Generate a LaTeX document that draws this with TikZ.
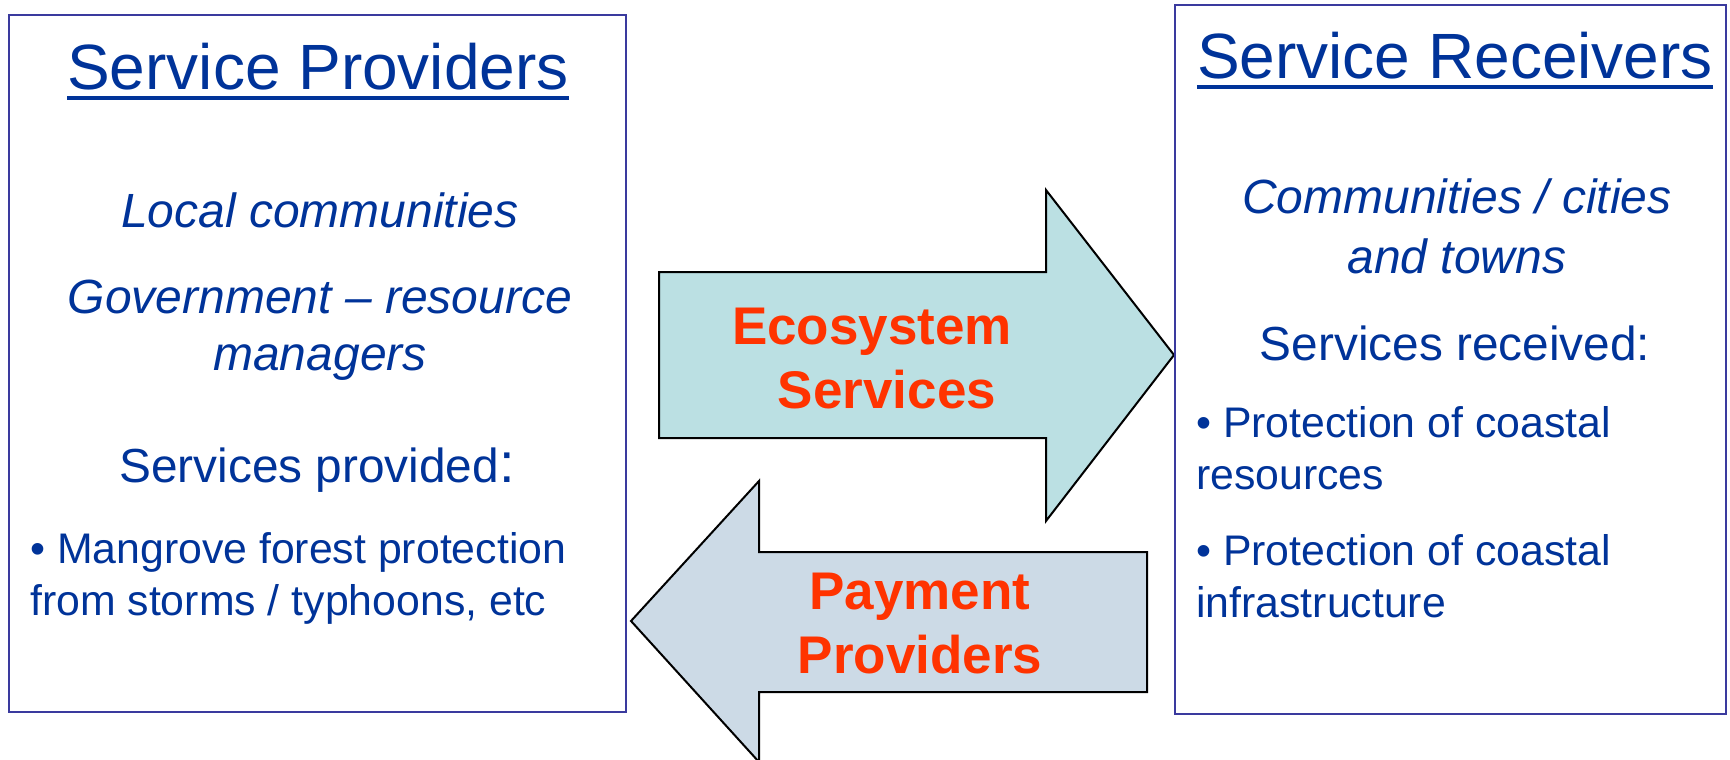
\documentclass[tikz,border=0pt]{standalone}
\usepackage{fontspec}
\setmainfont{Liberation Sans}
\definecolor{txtblue}{HTML}{003399}
\definecolor{boxblue}{HTML}{3A3A9E}
\definecolor{arrowred}{HTML}{FF3300}
\definecolor{ecofill}{HTML}{BBE0E3}
\definecolor{payfill}{HTML}{CCDAE6}
\begin{document}
\begin{tikzpicture}[x=1pt,y=-1pt,
 titletext/.style={inner sep=0pt, anchor=base, text=txtblue, font=\fontsize{64}{77}\selectfont},
 subtext/.style={inner sep=0pt, anchor=base, text=txtblue, font=\fontsize{48}{57}\selectfont\itshape},
 headtext/.style={inner sep=0pt, anchor=base, text=txtblue, font=\fontsize{47.8}{57}\selectfont},
 bultext/.style={inner sep=0pt, anchor=base west, text=txtblue, font=\fontsize{42.8}{51}\selectfont},
 arrtext/.style={inner sep=0pt, anchor=base, text=arrowred, font=\fontsize{53}{64}\selectfont\bfseries},
 panel/.style={draw=boxblue, line width=2pt},
 bigarrow/.style={draw=black, line width=2pt, line join=miter},
 uline/.style={draw=txtblue, line width=4pt}]
\useasboundingbox (0,0) rectangle (1730,760);
\clip (0,0) rectangle (1730,760);

% arrows
\draw[bigarrow, fill=ecofill] (659,272) -- (1046,272) -- (1046,190) -- (1174,355) -- (1046,521) -- (1046,438) -- (659,438) -- cycle;
\draw[bigarrow, fill=payfill] (1147,552) -- (759,552) -- (759,481) -- (631,621) -- (759,762) -- (759,692) -- (1147,692) -- cycle;

\node[arrtext] (e1) at (872,344) {Ecosystem};
\node[arrtext] (e2) at (887,408) {Services};
\node[arrtext] (p1) at (920,609) {Payment};
\node[arrtext] (p2) at (920,673) {Providers};

% panels
\draw[panel] (9,15) rectangle (626,712);
\draw[panel] (1175,5) rectangle (1726,714);

% left panel text
\node[titletext] (tl) at (318,89) {Service Providers};
\draw[uline] ([yshift=-9pt]tl.base west) -- ([yshift=-9pt]tl.base east);
\node[subtext] (l1) at (320,227) {Local communities};
\node[subtext] (l2) at (320,313) {Government \textendash{} resource};
\node[subtext] (l3) at (320,370) {managers};
\node[headtext] (l4) at (317,482) {Services provided{\fontsize{56}{60}\selectfont :}};
\node[bultext] (l5) at (30,563) {• Mangrove forest protection};
\node[bultext] (l6) at (30,615) {from storms / typhoons, etc};

% right panel text
\node[titletext] (tr) at (1455,79) {Service Receivers};
\draw[uline] ([yshift=-8pt]tr.base west) -- ([yshift=-8pt]tr.base east);
\node[subtext] (r1) at (1457,213) {Communities / cities};
\node[subtext] (r2) at (1457,273) {and towns};
\node[headtext] (r3) at (1455,360) {Services received:};
\node[bultext] (r4) at (1196,437) {• Protection of coastal};
\node[bultext] (r5) at (1196,489) {resources};
\node[bultext] (r6) at (1196,565) {• Protection of coastal};
\node[bultext] (r7) at (1196,617) {infrastructure};
\end{tikzpicture}
\end{document}
